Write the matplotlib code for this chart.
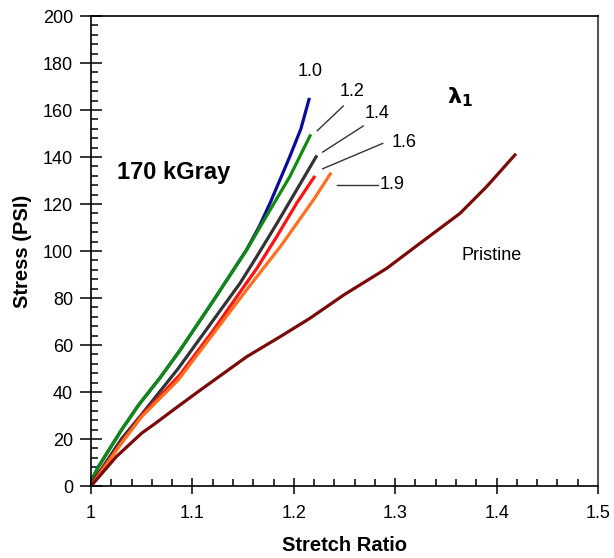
import numpy as np
import matplotlib
matplotlib.use('Agg')
import matplotlib.pyplot as plt
from matplotlib.ticker import MultipleLocator

plt.rcParams['font.family'] = ['Liberation Sans', 'DejaVu Sans']

# Curves (stretch ratio, stress in PSI)
x_10 = [1.0, 1.007, 1.03, 1.047, 1.068, 1.088, 1.121, 1.1535, 1.166, 1.1765,
        1.196, 1.207, 1.215]
y_10 = [2, 8, 23.8, 34.5, 46, 57.9, 79.1, 100.6, 110.5, 120.3, 140.1, 152, 164.5]

x_12 = [1.0, 1.007, 1.03, 1.047, 1.068, 1.088, 1.121, 1.1535, 1.1765, 1.196,
        1.216]
y_12 = [2, 8, 23.8, 34.5, 46, 57.9, 79.1, 100.4, 117.4, 131.6, 149]

x_14 = [1.0, 1.01, 1.03, 1.05, 1.086, 1.1206, 1.147, 1.1634, 1.183, 1.2028,
        1.222]
y_14 = [1, 7, 20, 30.5, 50, 70.6, 86.3, 97.6, 111.5, 126, 140.1]

x_16 = [1.0, 1.007, 1.03, 1.05, 1.088, 1.121, 1.1535, 1.1634, 1.183, 1.2028,
        1.22]
y_16 = [0, 4.5, 18.5, 30, 47.5, 66.5, 86.5, 92.5, 106, 120.3, 131.4]

x_19 = [1.0, 1.007, 1.03, 1.05, 1.086, 1.121, 1.1535, 1.187, 1.2193, 1.236]
y_19 = [0, 4, 18.2, 29.5, 45.1, 65, 83.5, 102, 121.7, 132.8]

x_pr = [1.0, 1.01, 1.025, 1.04, 1.05, 1.063, 1.0825, 1.1055, 1.1535, 1.1864,
        1.216, 1.25, 1.2916, 1.3245, 1.3639, 1.3902, 1.4181]
y_pr = [0, 5, 12.5, 18.5, 22.5, 26.5, 32.8, 40.1, 55, 63.5, 71.4, 81.5, 92.6,
        103.3, 116, 127.4, 140.9]

fig = plt.figure(figsize=(6.14, 5.58), dpi=100)
ax = fig.add_axes([0.1482, 0.129, 0.8257, 0.8423])

lw = 2.3
ax.plot(x_10, y_10, color='#0c0c9a', lw=lw)
ax.plot(x_12, y_12, color='#108a10', lw=lw)
ax.plot(x_14, y_14, color='#333333', lw=lw)
ax.plot(x_16, y_16, color='#ff1414', lw=lw)
ax.plot(x_19, y_19, color='#ff7020', lw=lw)
ax.plot(x_pr, y_pr, color='#7a0a0a', lw=lw)

ax.set_xlim(1, 1.5)
ax.set_ylim(0, 200)
ax.set_xticks([1, 1.1, 1.2, 1.3, 1.4, 1.5], ['1', '1.1', '1.2', '1.3', '1.4', '1.5'])
ax.xaxis.set_minor_locator(MultipleLocator(0.02))
ax.yaxis.set_major_locator(MultipleLocator(20))
ax.yaxis.set_minor_locator(MultipleLocator(4))

ax.tick_params(axis='x', which='major', direction='inout', length=12, width=1.1,
               labelsize=13, pad=8)
ax.tick_params(axis='y', which='major', direction='inout', length=16, width=1.1,
               labelsize=13, pad=5)
ax.tick_params(which='minor', direction='in', length=5, width=1.1)

for s in ['left', 'bottom', 'top']:
    ax.spines[s].set_linewidth(1.2)
    ax.spines[s].set_color('black')
ax.spines['right'].set_linewidth(1.5)
ax.spines['right'].set_color('#555555')

ax.set_xlabel('Stretch Ratio', fontsize=14.5, fontweight='bold', labelpad=10)
ax.set_ylabel('Stress (PSI)', fontsize=14.5, fontweight='bold', labelpad=8)

ax.text(1.081, 133.6, '170 kGray', fontsize=17, fontweight='bold',
        ha='center', va='center')
ax.text(1.364, 165.5, r'$\boldsymbol{\lambda}_\mathbf{1}$', fontsize=16,
        ha='center', va='center')
ax.text(1.395, 98.3, 'Pristine', fontsize=13, ha='center', va='center')

ax.text(1.216, 176.2, '1.0', fontsize=13, ha='center', va='center')
ax.text(1.257, 167.8, '1.2', fontsize=13, ha='center', va='center')
ax.text(1.282, 158.6, '1.4', fontsize=13, ha='center', va='center')
ax.text(1.309, 146.1, '1.6', fontsize=13, ha='center', va='center')
ax.text(1.2845, 128.1, '1.9', fontsize=13, ha='left', va='center')

lc = '#333333'
ax.plot([1.2488, 1.2232], [161.7, 151.2], color=lc, lw=1)
ax.plot([1.2685, 1.2285], [153.2, 142.1], color=lc, lw=1)
ax.plot([1.2877, 1.2285], [145.8, 135.0], color=lc, lw=1)
ax.plot([1.2429, 1.2833], [128.1, 128.1], color=lc, lw=1)

fig.savefig('out.png', dpi=100)
